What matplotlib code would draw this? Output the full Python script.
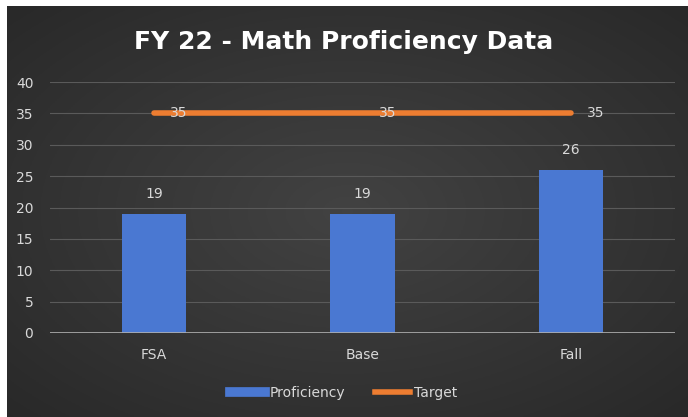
import numpy as np
import matplotlib.pyplot as plt
from matplotlib.lines import Line2D

# Data
categories = ['FSA', 'Base', 'Fall']
proficiency = [19, 19, 26]
target = [35, 35, 35]
yticks = [0, 5, 10, 15, 20, 25, 30, 35, 40]

txt = '#d9d9d9'
blue = '#4a78d2'
orange = '#ed7d31'

fig = plt.figure(figsize=(6.88, 4.17), dpi=100, facecolor='white')

# dark radial background
bg = fig.add_axes([7 / 688, 0, 1 - 7 / 688, 1 - 6 / 417])
yy, xx = np.mgrid[-1:1:200j, -1:1:300j]
r = np.sqrt(xx ** 2 + yy ** 2) / np.sqrt(2)
shade = 0.26 - 0.1 * r
bg.imshow(np.dstack([shade, shade, shade]), aspect='auto', extent=[0, 1, 0, 1])
bg.set_axis_off()

ax = fig.add_axes([50 / 688, 1 - 333 / 417, 625 / 688, 251 / 417])
ax.set_facecolor('none')
x = np.arange(len(categories))

bars = ax.bar(x, proficiency, width=0.31, color=blue, zorder=3)
ax.plot(x, target, color=orange, lw=4, solid_capstyle='round', zorder=4)

for xi, v in zip(x, proficiency):
    ax.annotate(str(v), (xi, v), xytext=(0, 14), textcoords='offset points',
                ha='center', va='center', color=txt, fontsize=10)
for xi, v in zip(x, target):
    ax.annotate(str(v), (xi, v), xytext=(18, 0), textcoords='offset points',
                ha='center', va='center', color=txt, fontsize=10, zorder=5)

ax.set_xlim(-0.5, len(categories) - 0.5)
ax.set_ylim(0, 40)
ax.set_yticks(yticks)
ax.set_xticks(x)
ax.set_xticklabels(categories)
ax.grid(axis='y', color='#5a5a5a', lw=0.8, zorder=0)
ax.axhline(0, color='#b0b0b0', lw=1.2, zorder=4)
for s in ax.spines.values():
    s.set_visible(False)
ax.tick_params(length=0, colors=txt, labelsize=10)
ax.tick_params(axis='y', pad=12)
ax.tick_params(axis='x', pad=11)

fig.text(0.5, 1 - 42 / 417, 'FY 22 - Math Proficiency Data', ha='center', va='center',
         color='white', fontsize=18, fontweight='bold')

handles = [Line2D([], [], color=blue, lw=7), Line2D([], [], color=orange, lw=4)]
fig.legend(handles, ['Proficiency', 'Target'], loc='center', bbox_to_anchor=(0.5, 1 - 393 / 417),
           ncol=2, frameon=False, labelcolor=txt, fontsize=10, handlelength=2.5,
           handletextpad=0.3, columnspacing=2.2)

fig.savefig('out.png', dpi=100, facecolor='white')
